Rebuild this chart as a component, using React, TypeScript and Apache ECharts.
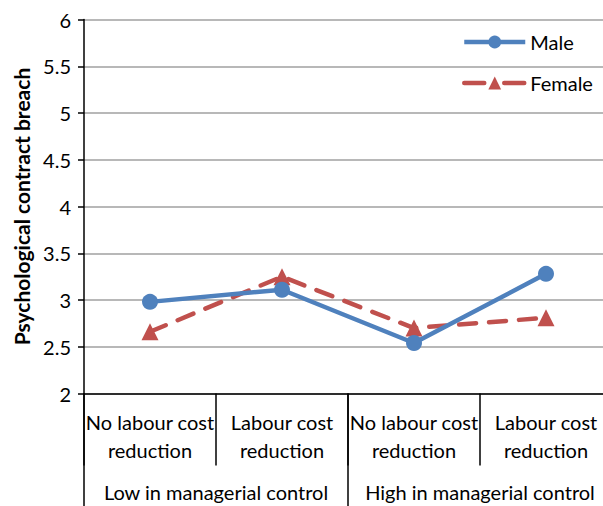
import React, { useEffect, useRef } from "react";
import * as echarts from "echarts";

const categories = ["No labour cost\nreduction", "Labour cost\nreduction", "No labour cost\nreduction", "Labour cost\nreduction"];
const groups = ["Low in managerial control", "High in managerial control"];
const maleValues = [2.98, 3.11, 2.54, 3.28];
const femaleValues = [2.66, 3.25, 2.7, 2.81];
const yAxisTitle = "Psychological contract breach";

const FONT = "Lato, 'Liberation Sans', sans-serif";

export default function App() {
  const ref = useRef<HTMLDivElement>(null);
  useEffect(() => {
    if (!ref.current) return;
    const chart = echarts.init(ref.current, undefined, { renderer: "svg" });
    chart.setOption({
      animation: false,
      textStyle: { fontFamily: FONT },
      legend: {
        orient: "vertical",
        left: 457,
        top: 27,
        itemWidth: 61,
        itemHeight: 16,
        itemGap: 21,
        lineStyle: { width: 4.5 },
        textStyle: { fontSize: 20, color: "#000", fontFamily: FONT },
        data: [
          { name: "Male" },
          { name: "Female", lineStyle: { type: [20, 20] } },
        ],
      },
      grid: { left: 84, top: 19.5, width: 528, height: 374, containLabel: false, outerBoundsMode: "none" },
      xAxis: [
        {
          type: "category",
          data: categories,
          position: "bottom",
          boundaryGap: true,
          axisLine: { show: true, lineStyle: { color: "#000", width: 1.5 } },
          axisTick: { show: true, length: 72, lineStyle: { color: "#000", width: 1.5 } },
          axisLabel: { fontSize: 20, lineHeight: 28, color: "#000", margin: 14, interval: 0, fontFamily: FONT },
          splitLine: { show: false },
        },
        {
          type: "category",
          data: groups,
          position: "bottom",
          offset: 0,
          boundaryGap: true,
          axisLine: { show: false },
          axisTick: { show: true, length: 115, lineStyle: { color: "#000", width: 1.5 } },
          axisLabel: { fontSize: 20, color: "#000", margin: 88, interval: 0, fontFamily: FONT },
          splitLine: { show: false },
        },
      ],
      yAxis: {
        type: "value",
        min: 2,
        max: 6,
        interval: 0.5,
        name: yAxisTitle,
        nameLocation: "middle",
        nameGap: 52,
        nameTextStyle: { fontSize: 21, fontWeight: "bold", color: "#000", fontFamily: FONT },
        axisLine: { show: true, lineStyle: { color: "#000", width: 1.5 } },
        axisTick: { show: true, length: 6, inside: false, lineStyle: { color: "#000", width: 1.5 } },
        axisLabel: { fontSize: 20, color: "#000", margin: 13, fontFamily: FONT },
        splitLine: { show: true, lineStyle: { color: "#a0a0a0", width: 1.5 } },
      },
      series: [
        {
          name: "Male",
          type: "line",
          xAxisIndex: 0,
          data: maleValues,
          symbol: "circle",
          symbolSize: 16,
          z: 3,
          lineStyle: { color: "#4F81BD", width: 4.5 },
          itemStyle: { color: "#4F81BD" },
        },
        {
          name: "Female",
          type: "line",
          xAxisIndex: 0,
          data: femaleValues,
          symbol: "triangle",
          symbolSize: 17,
          z: 2,
          lineStyle: { color: "#C0504D", width: 4.5, type: [17, 13], cap: "round" },
          itemStyle: { color: "#C0504D" },
        },
      ],
    });
    return () => chart.dispose();
  }, []);
  return (
    <div
      ref={ref}
      style={{ position: "fixed", left: 0, top: 0, width: 603, height: 506, background: "#fff" }}
    />
  );
}
